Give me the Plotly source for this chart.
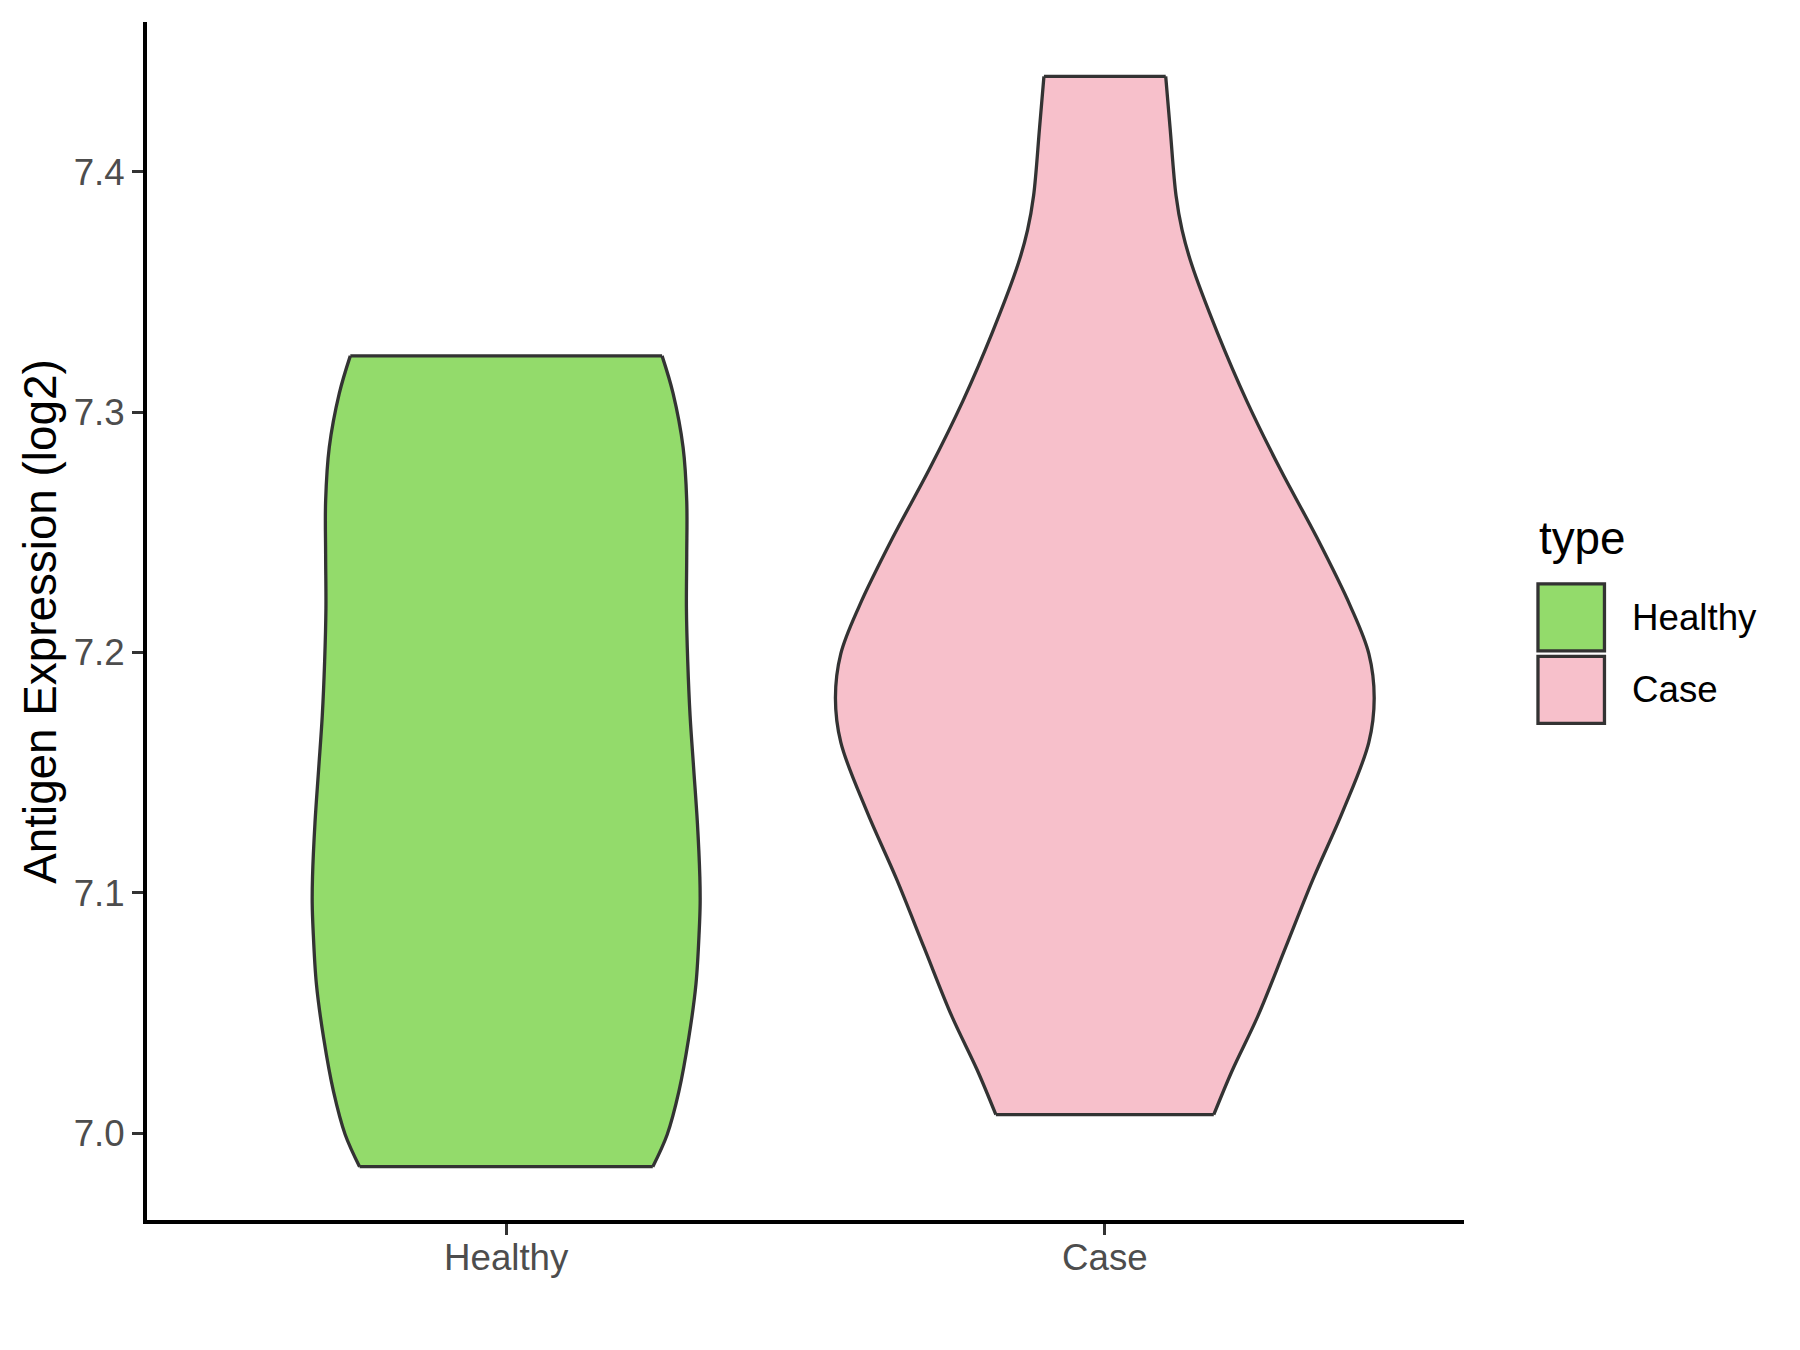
import numpy as np
import plotly.graph_objs as go

# Violin outlines: y level and half width (in category units)
categories = ['Healthy', 'Case']
colors = ['#93DB6B', '#F7C0CB']

healthy_y = [7.3234, 7.3078, 7.2854, 7.2631, 7.2408, 7.2184, 7.1961, 7.1737, 7.1514,
             7.1291, 7.1067, 7.0956, 7.0844, 7.0620, 7.0397, 7.0174, 6.9995, 6.9861]
healthy_hw = [0.2604, 0.2788, 0.2955, 0.3016, 0.3016, 0.3011, 0.3033, 0.3072, 0.3133,
              0.3194, 0.3235, 0.3240, 0.3225, 0.3170, 0.3050, 0.2885, 0.2690, 0.2449]

case_y = [7.4397, 7.4184, 7.3900, 7.3758, 7.3615, 7.3331, 7.3047, 7.2763, 7.2479, 7.2194,
          7.1995, 7.1811, 7.1626, 7.1342, 7.1058, 7.0773, 7.0489, 7.0262, 7.0077]
case_hw = [0.1017, 0.109, 0.119, 0.129, 0.145, 0.188, 0.237, 0.293, 0.354, 0.41,
           0.441, 0.45, 0.441, 0.398, 0.348, 0.302, 0.256, 0.213, 0.182]

y_ticks = [7.0, 7.1, 7.2, 7.3, 7.4]

FONT = 'Liberation Sans, Arial, sans-serif'
OUTLINE = '#333333'
OFF = 8  # page body margin
W, H = 1784, 1334
L, T = 146.7 - OFF, 22.3 - OFF
R, B = W - (1464 - OFF), H - (1220 - OFF)
PW, PH = W - L - R, H - T - B


def px_to_paper(x, y):
    """page pixel -> paper coords"""
    return (x - OFF - L) / PW, (H - B - (y - OFF)) / PH


def violin_traces(center, ys, hws, color, name):
    ys = np.array(ys)
    hws = np.array(hws)
    line = dict(color=OUTLINE, width=3.3, shape='spline', smoothing=1)
    left = go.Scatter(x=center - hws, y=ys, mode='lines', line=line,
                      name=name, hoverinfo='skip')
    right = go.Scatter(x=center + hws, y=ys, mode='lines', line=line,
                       fill='tonextx', fillcolor=color, name=name, hoverinfo='skip')
    edges = go.Scatter(x=[center - hws[0], center + hws[0], None, center - hws[-1], center + hws[-1]],
                       y=[ys[0], ys[0], None, ys[-1], ys[-1]], mode='lines',
                       line=dict(color=OUTLINE, width=3.3), hoverinfo='skip')
    return [left, right, edges]


fig = go.Figure()
for c, (ys, hws) in enumerate([(healthy_y, healthy_hw), (case_y, case_hw)]):
    fig.add_traces(violin_traces(c + 1, ys, hws, colors[c], categories[c]))

axis_common = dict(showline=True, linecolor='black', linewidth=4, mirror=False,
                   ticks='outside', ticklen=11, tickwidth=2.7, tickcolor='#333333',
                   showgrid=False, zeroline=False,
                   tickfont=dict(family=FONT, size=36.7, color='#4D4D4D'))

fig.layout.update(
    width=W, height=H,
    margin=dict(l=L, r=R, t=T, b=B, pad=0),
    plot_bgcolor='white', paper_bgcolor='white',
    showlegend=False,
    xaxis=dict(range=[0.4, 2.6], tickvals=[1, 2], ticktext=categories,
               ticklabelstandoff=-9, **axis_common),
    yaxis=dict(range=[6.9639, 7.4623], tickvals=y_ticks,
               ticktext=[f'{v:.1f}' for v in y_ticks], **axis_common),
)

# y axis title
ax, ay = px_to_paper(40, 621.6)
annotations = [dict(text='Antigen Expression (log2)', x=ax, y=ay, xref='paper', yref='paper',
                    textangle=-90, showarrow=False, xanchor='center', yanchor='middle',
                    font=dict(family=FONT, size=45.8, color='black'))]

# legend drawn by hand (ggplot-style keys)
tx, ty = px_to_paper(1536.7, 539)
annotations.append(dict(text='type', x=tx, y=ty, xref='paper', yref='paper', showarrow=False,
                        xanchor='left', yanchor='middle',
                        font=dict(family=FONT, size=45.8, color='black')))
shapes = []
key_tops = [584, 656.5]
label_mid = [617.9, 689.5]
for name, col, top, mid in zip(categories, colors, key_tops, label_mid):
    x0, y0 = px_to_paper(1538, top)
    x1, y1 = px_to_paper(1604.5, top + 67)
    shapes.append(dict(type='rect', xref='paper', yref='paper', x0=x0, x1=x1, y0=y0, y1=y1,
                       fillcolor=col, line=dict(color=OUTLINE, width=3.3)))
    lx, ly = px_to_paper(1630, mid)
    annotations.append(dict(text=name, x=lx, y=ly, xref='paper', yref='paper', showarrow=False,
                            xanchor='left', yanchor='middle',
                            font=dict(family=FONT, size=36.7, color='black')))

fig.layout.update(annotations=annotations, shapes=shapes)

fig.write_html('out.html')
